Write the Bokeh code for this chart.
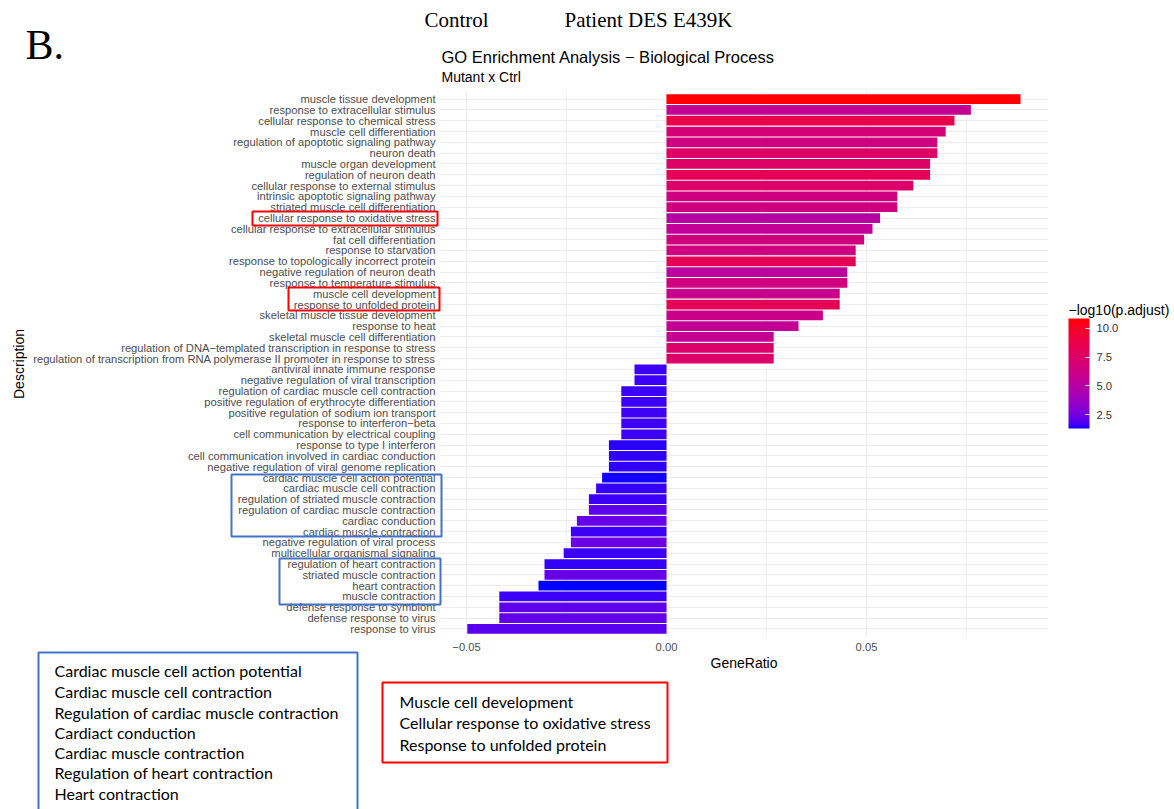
import math
from bokeh.plotting import figure
from bokeh.models import (FactorRange, Range1d, LinearColorMapper, ColorBar, FixedTicker,
                          PrintfTickFormatter, Label, BoxAnnotation, ColumnDataSource, GridBox)
from bokeh.embed import file_html
from bokeh.resources import INLINE

# ---------------- data ----------------
terms = [
    "muscle tissue development",
    "response to extracellular stimulus",
    "cellular response to chemical stress",
    "muscle cell differentiation",
    "regulation of apoptotic signaling pathway",
    "neuron death",
    "muscle organ development",
    "regulation of neuron death",
    "cellular response to external stimulus",
    "intrinsic apoptotic signaling pathway",
    "striated muscle cell differentiation",
    "cellular response to oxidative stress",
    "cellular response to extracellular stimulus",
    "fat cell differentiation",
    "response to starvation",
    "response to topologically incorrect protein",
    "negative regulation of neuron death",
    "response to temperature stimulus",
    "muscle cell development",
    "response to unfolded protein",
    "skeletal muscle tissue development",
    "response to heat",
    "skeletal muscle cell differentiation",
    "regulation of DNA\u2212templated transcription in response to stress",
    "regulation of transcription from RNA polymerase II promoter in response to stress",
    "antiviral innate immune response",
    "negative regulation of viral transcription",
    "regulation of cardiac muscle cell contraction",
    "positive regulation of erythrocyte differentiation",
    "positive regulation of sodium ion transport",
    "response to interferon\u2212beta",
    "cell communication by electrical coupling",
    "response to type I interferon",
    "cell communication involved in cardiac conduction",
    "negative regulation of viral genome replication",
    "cardiac muscle cell action potential",
    "cardiac muscle cell contraction",
    "regulation of striated muscle contraction",
    "regulation of cardiac muscle contraction",
    "cardiac conduction",
    "cardiac muscle contraction",
    "negative regulation of viral process",
    "multicellular organismal signaling",
    "regulation of heart contraction",
    "striated muscle contraction",
    "heart contraction",
    "muscle contraction",
    "defense response to symbiont",
    "defense response to virus",
    "response to virus",
]

gene_ratio = [
    0.0885, 0.0761, 0.0720, 0.0698, 0.0677, 0.0677, 0.0659, 0.0659, 0.0617, 0.0577,
    0.0577, 0.0534, 0.0515, 0.0494, 0.0473, 0.0473, 0.0452, 0.0452, 0.0433, 0.0433,
    0.0391, 0.0330, 0.0268, 0.0268, 0.0268,
    -0.0080, -0.0080, -0.0113, -0.0113, -0.0113, -0.0113, -0.0113, -0.0144, -0.0144, -0.0144,
    -0.0161, -0.0176, -0.0194, -0.0194, -0.0224, -0.0239, -0.0239, -0.0257, -0.0305, -0.0305,
    -0.0320, -0.0418, -0.0418, -0.0418, -0.0498,
]

neg_log10_padj = [
    10.85, 5.7, 8.65, 6.93, 6.46, 7.6, 7.6, 8.2, 7.4, 6.46,
    6.46, 4.93, 5.5, 6.46, 6.46, 8.3, 5.2, 6.46, 6.0, 8.2,
    6.1, 5.6, 5.6, 7.4, 7.4,
    1.6, 1.6, 1.6, 1.6, 1.65, 1.65, 1.6, 1.45, 1.5, 1.5,
    1.35, 1.55, 1.6, 2.05, 2.2, 1.6, 2.35, 1.6, 1.55, 2.2,
    1.3, 1.6, 2.05, 2.15, 2.0,
]

x_ticks = [-0.05, 0.0, 0.05]
x_minor_ticks = [-0.025, 0.025, 0.075]
x_tick_labels = ["\u22120.05", "0.00", "0.05"]
legend_ticks = [2.5, 5.0, 7.5, 10.0]
color_low, color_high = 1.3, 10.85

blue_terms = ["Cardiac muscle cell action potential", "Cardiac muscle cell contraction",
              "Regulation of cardiac muscle contraction", "Cardiact conduction",
              "Cardiac muscle contraction", "Regulation of heart contraction",
              "Heart contraction"]
red_terms = ["Muscle cell development", "Cellular response to oxidative stress",
             "Response to unfolded protein"]

# ---------------- colour ramp (blue -> red in CIELAB, like ggplot) ----------------
def _lin(c):
    c = c / 255.0
    return c / 12.92 if c <= 0.04045 else ((c + 0.055) / 1.055) ** 2.4

def _f(t):
    return t ** (1 / 3) if t > 0.008856 else 7.787 * t + 16 / 116

def rgb2lab(r, g, b):
    R, G, B = _lin(r), _lin(g), _lin(b)
    X = (0.4124 * R + 0.3576 * G + 0.1805 * B) / 0.95047
    Y = (0.2126 * R + 0.7152 * G + 0.0722 * B)
    Z = (0.0193 * R + 0.1192 * G + 0.9505 * B) / 1.08883
    fx, fy, fz = _f(X), _f(Y), _f(Z)
    return 116 * fy - 16, 500 * (fx - fy), 200 * (fy - fz)

def lab2hex(L, a, b):
    fy = (L + 16) / 116
    fx = fy + a / 500
    fz = fy - b / 200
    def inv(f):
        return f ** 3 if f ** 3 > 0.008856 else (f - 16 / 116) / 7.787
    X, Y, Z = 0.95047 * inv(fx), inv(fy), 1.08883 * inv(fz)
    rgb = [3.2406 * X - 1.5372 * Y - 0.4986 * Z,
           -0.9689 * X + 1.8758 * Y + 0.0415 * Z,
           0.0557 * X - 0.2040 * Y + 1.0570 * Z]
    out = []
    for c in rgb:
        c = min(1, max(0, c))
        v = 12.92 * c if c <= 0.0031308 else 1.055 * c ** (1 / 2.4) - 0.055
        out.append(int(round(v * 255)))
    return "#%02x%02x%02x" % tuple(out)

lo, hi = rgb2lab(0, 0, 255), rgb2lab(255, 0, 0)
palette = []
for i in range(256):
    t = i / 255
    palette.append(lab2hex(*[lo[k] + (hi[k] - lo[k]) * t for k in range(3)]))

mapper = LinearColorMapper(palette=palette, low=color_low, high=color_high)

# ---------------- main figure ----------------
FONT = "Liberation Sans"
W, H = 1174, 809
fig = figure(width=W, height=H, output_backend="svg", toolbar_location=None,
             y_range=FactorRange(factors=terms[::-1], range_padding=0.2,
                                 range_padding_units="absolute"),
             x_range=(-0.05675, 0.0955),
             min_border_left=439, min_border_right=126, min_border_top=91,
             min_border_bottom=173, title=None)
fig.frame_align = False
fig.outline_line_color = None
fig.background_fill_color = "white"
fig.border_fill_color = "white"

src = ColumnDataSource(dict(term=terms, ratio=gene_ratio, score=neg_log10_padj))
fig.hbar(y="term", left=0, right="ratio", height=0.9, source=src,
         fill_color={"field": "score", "transform": mapper}, line_color=None)

fig.xaxis.ticker = FixedTicker(ticks=x_ticks, minor_ticks=x_minor_ticks)
fig.xaxis.major_label_overrides = {t: s for t, s in zip(x_ticks, x_tick_labels)}
fig.xaxis.axis_label = "GeneRatio"
fig.yaxis.axis_label = "Description"
for ax in (fig.xaxis[0], fig.yaxis[0]):
    ax.axis_line_color = None
    ax.major_tick_line_color = None
    ax.minor_tick_line_color = None
    ax.major_tick_out = 0
    ax.minor_tick_out = 0
    ax.major_label_text_font = FONT
    ax.major_label_text_font_size = "11.2px"
    ax.major_label_text_color = "#4d4d4d"
    ax.axis_label_text_font = FONT
    ax.axis_label_text_font_size = "14px"
    ax.axis_label_text_font_style = "normal"
    ax.axis_label_text_color = "black"
fig.xaxis.major_label_standoff = 6
fig.xaxis.axis_label_standoff = 1
fig.yaxis.major_label_standoff = 4
fig.yaxis.axis_label_standoff = 3

fig.xgrid.grid_line_color = "#ebebeb"
fig.xgrid.minor_grid_line_color = "#f0f0f0"
fig.ygrid.grid_line_color = "#ebebeb"

cb = ColorBar(color_mapper=mapper, width=21, height=110,
              ticker=FixedTicker(ticks=legend_ticks),
              formatter=PrintfTickFormatter(format="%.1f"),
              major_label_text_font=FONT, major_label_text_font_size="11.2px",
              major_label_text_color="#333333", label_standoff=7,
              major_tick_line_color="white", major_tick_in=4, major_tick_out=0,
              bar_line_color=None, padding=0, margin=0,
              background_fill_color=None, border_line_color=None,
              location=(629, 208))
fig.add_layout(cb, "center")

# ---------------- overlay (annotations around the chart, page pixel space) ----------------
ov = figure(width=W, height=H, output_backend="svg", toolbar_location=None,
            x_range=Range1d(0, W), y_range=Range1d(H, 0), min_border=0,
            x_axis_location=None, y_axis_location=None, title=None)
ov.frame_align = False
ov.grid.visible = False
ov.outline_line_color = None
ov.background_fill_color = None
ov.border_fill_color = None

def lab(x, y, text, size, font=FONT, color="black", align="left"):
    ov.add_layout(Label(x=x, y=y, text=text, text_font=font, text_font_size=size,
                        text_color=color, text_align=align, text_baseline="middle"))

lab(25, 44, "B.", "42px", font="Liberation Serif")
lab(424, 19, "Control", "21px", font="Liberation Serif")
lab(564, 19, "Patient DES E439K", "21px", font="Liberation Serif")
lab(441, 56, "GO Enrichment Analysis \u2212 Biological Process", "16.5px")
lab(441, 76, "Mutant x Ctrl", "14px")
lab(1068, 309, "\u2212log10(p.adjust)", "14px")

def box(l, r, t, b, color):
    ov.add_layout(BoxAnnotation(left=l, right=r, top=t, bottom=b,
                                fill_alpha=0, line_color=color, line_alpha=1.0,
                                line_width=2, level="overlay"))

RED, BLUE = "#ff0000", "#4472c4"
box(252, 437, 211, 225, RED)
box(288, 439, 287, 310, RED)
box(231, 441, 474, 536, BLUE)
box(279, 440, 558, 604, BLUE)
box(38, 357, 652, 840, BLUE)
box(382, 667, 682, 762, RED)

for i, s in enumerate(blue_terms):
    lab(54, [670, 691, 712, 732, 752, 772, 793][i], s, "16px", font="Lato")
for i, s in enumerate(red_terms):
    lab(399, [701, 722, 744][i], s, "16px", font="Lato")

p = GridBox(children=[(fig, 0, 0), (ov, 0, 0)])

open("out.html", "w").write(file_html(p, INLINE))
